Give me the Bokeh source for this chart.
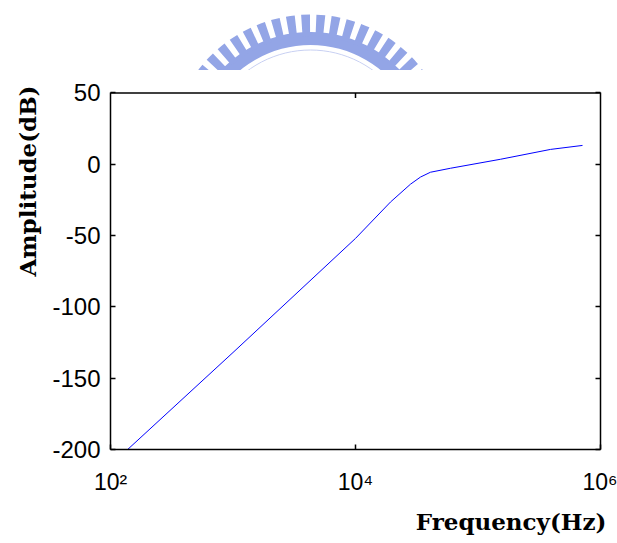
import numpy as np
from bokeh.plotting import figure
from bokeh.models import LinearAxis, FixedTicker, Title
from bokeh.embed import file_html
from bokeh.resources import INLINE

# ---- data ----
freq_hz = [138, 1000, 10000, 19300, 28100, 33900, 40900, 59700, 152800, 390800, 713000]
amp_db = [-200, -132, -52, -26.5, -14, -9, -5.6, -2.8, 3.5, 10.4, 13.2]
x_ticks = [100, 10000, 1000000]
x_tick_labels = {100: "10²", 10000: "10⁴", 1000000: "10⁶"}
y_ticks = [-200, -150, -100, -50, 0, 50]
y_tick_labels = {-200: "-200", -150: "-150", -100: "-100", -50: "-50", 0: "0", 50: "50"}
x_label = "Frequency(Hz)"
y_label = "Amplitude(dB)"
x_min, x_max = 100, 1e6
y_min, y_max = -200, 50

# ---- layout (pixels) ----
W, H = 617, 543
FRAME_L, FRAME_R = 110, 600
BOX_TOP, FRAME_B = 93, 452
CANVAS_TOP = 10            # frame extends above the box to host the watermark
px_per_db = (FRAME_B - BOX_TOP) / (y_max - y_min)
px_per_dec = (FRAME_R - FRAME_L) / np.log10(x_max / x_min)
y_top = y_max + (BOX_TOP - CANVAS_TOP) / px_per_db

def px_to_x(px):
    return x_min * 10 ** ((px - FRAME_L) / px_per_dec)

def py_to_y(py):
    return y_max + (BOX_TOP - py) / px_per_db

BG = "white"

p = figure(width=W, height=H, x_axis_type="log",
           x_range=(x_min, x_max), y_range=(y_min, y_top),
           output_backend="svg", toolbar_location=None,
           min_border_left=FRAME_L, min_border_right=W - FRAME_R,
           min_border_top=CANVAS_TOP, min_border_bottom=H - FRAME_B)
p.background_fill_color = BG
p.border_fill_color = BG
p.outline_line_color = None
p.grid.visible = False

# ---- watermark (decorative logo above the axes box) ----
logo_c = "#93a5e6"
lx, ly = px_to_x(310), py_to_y(156.5)
p.annular_wedge(x=[lx], y=[ly], inner_radius=111, outer_radius=124,
                inner_radius_units="screen", outer_radius_units="screen",
                start_angle=np.radians(30), end_angle=np.radians(150),
                color=logo_c, line_color=None)
tooth_angles = np.arange(-60, 60.1, 6.2)
n = len(tooth_angles)
p.annular_wedge(x=[lx] * n, y=[ly] * n, inner_radius=120, outer_radius=141.5,
                inner_radius_units="screen", outer_radius_units="screen",
                start_angle=np.radians(90 + tooth_angles - 1.8),
                end_angle=np.radians(90 + tooth_angles + 1.8),
                color=logo_c, line_color=None)
p.arc(x=[lx], y=[ly], radius=106, radius_units="screen",
      start_angle=np.radians(35), end_angle=np.radians(145),
      line_color="#c8d0f2", line_width=1)
# page background below the watermark cut
p.quad(left=[x_min], right=[x_max], bottom=[y_min], top=[py_to_y(70)],
       fill_color=BG, line_color=None)

# ---- data line ----
p.line(freq_hz, amp_db, line_color="#0000ff", line_width=1)

# ---- box: top edge and its tick ----
p.segment(x0=[x_min], x1=[x_max], y0=[y_max], y1=[y_max],
          line_color="black", line_width=1.5)
p.segment(x0=[x_ticks[1]], x1=[x_ticks[1]], y0=[y_max], y1=[y_max - 5 / px_per_db],
          line_color="black", line_width=1.5)

def style_axis(ax, labels=True):
    ax.axis_line_color = "black"
    ax.axis_line_width = 1.5
    ax.major_tick_in = 5
    ax.major_tick_out = 0
    ax.minor_tick_line_color = None
    ax.major_tick_line_color = "black"
    ax.major_tick_line_width = 1.5
    ax.major_label_text_font = "Liberation Sans"
    ax.major_label_text_font_size = "23px"
    ax.major_label_text_color = "black"
    if not labels:
        ax.major_label_text_color = None
        ax.major_label_standoff = 0

xa = p.xaxis[0]
xa.ticker = FixedTicker(ticks=x_ticks)
xa.major_label_overrides = x_tick_labels
style_axis(xa)
xa.major_label_standoff = 19

ya = p.yaxis[0]
ya.ticker = FixedTicker(ticks=y_ticks)
ya.major_label_overrides = y_tick_labels
ya.bounds = (y_min, y_max)
style_axis(ya)
ya.major_label_text_font_size = "24px"
ya.major_label_standoff = 10

right_ax = LinearAxis(ticker=FixedTicker(ticks=y_ticks), bounds=(y_min, y_max))
style_axis(right_ax, labels=False)
p.add_layout(right_ax, "right")

# ---- axis titles ----
p.add_layout(Title(text=x_label, align="right", offset=-6, standoff=17,
                   text_font="DejaVu Serif", text_font_style="bold",
                   text_font_size="23px", text_color="black"), "below")
p.add_layout(Title(text=y_label, align="right", offset=75, standoff=17,
                   text_font="DejaVu Serif", text_font_style="bold",
                   text_font_size="23px", text_color="black"), "left")

open("out.html", "w").write(file_html(p, INLINE))
